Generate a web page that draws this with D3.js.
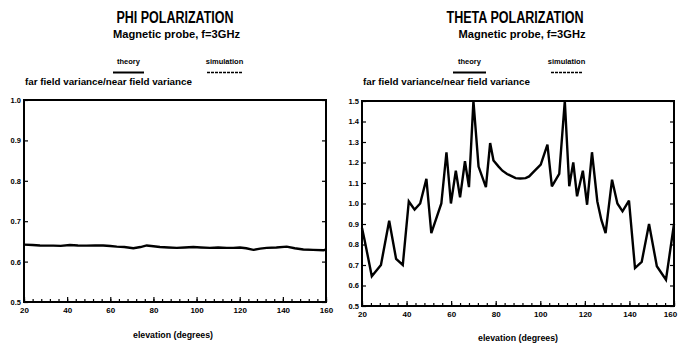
<!DOCTYPE html>
<html>
<head>
<meta charset="utf-8">
<script src="https://cdn.jsdelivr.net/npm/d3@7"></script>
<style>
  body { margin: 0; background: #fff; }
  svg { display: block; font-family: "Liberation Sans", Arial, sans-serif; }
</style>
</head>
<body>
<div id="chart"></div>
<script>
// elevation ticks shared by both panels
const elevationTicks = [20, 40, 60, 80, 100, 120, 140, 160];
const phiRatioTicks = [0.5, 0.6, 0.7, 0.8, 0.9, 1.0];
const thetaRatioTicks = [0.5, 0.6, 0.7, 0.8, 0.9, 1.0, 1.1, 1.2, 1.3, 1.4, 1.5];

// phi polarization: far/near variance ratio, nearly flat
const phiElevation = [20, 24, 27.4, 30.5, 33.6, 37, 41.3, 45, 49, 53, 56.7, 60, 63, 66.5, 70.7, 74, 76.9, 80, 83, 87, 90.8, 94.5, 98.5, 102, 106.2, 110, 114, 117, 120.1, 123, 126.3, 129.5, 132.5, 137, 141.8, 145.5, 149.5, 154, 158.8, 160];
const phiRatio = [0.642, 0.641, 0.640, 0.6395, 0.6395, 0.639, 0.641, 0.640, 0.6395, 0.640, 0.640, 0.6385, 0.637, 0.636, 0.633, 0.636, 0.640, 0.638, 0.636, 0.635, 0.634, 0.635, 0.636, 0.635, 0.634, 0.635, 0.634, 0.634, 0.635, 0.633, 0.629, 0.632, 0.634, 0.635, 0.637, 0.633, 0.630, 0.629, 0.628, 0.630];

// theta polarization: far/near variance ratio
const thetaElevation = [20, 21.2, 24.4, 28.5, 32.2, 35.3, 38.3, 41, 43.6, 46.1, 48.9, 51.1, 55.6, 57.9, 59.9, 62.1, 64, 66.2, 68, 70, 72.3, 75.6, 77.5, 79, 81.3, 83, 85.1, 88.9, 91, 93.4, 95, 97.2, 100.2, 103.2, 105.2, 108.5, 111, 113, 114.8, 116.5, 119.1, 121, 123.2, 125.6, 127.4, 129.3, 132.2, 134.6, 136.9, 139.8, 142.5, 145.5, 148.8, 152.3, 156.4, 160];
const thetaRatio = [0.88, 0.82, 0.645, 0.70, 0.916, 0.73, 0.70, 1.01, 0.97, 1.0, 1.12, 0.856, 1.0, 1.25, 1.0, 1.16, 1.03, 1.206, 1.08, 1.5, 1.18, 1.08, 1.295, 1.21, 1.18, 1.16, 1.144, 1.124, 1.122, 1.124, 1.132, 1.157, 1.19, 1.287, 1.084, 1.144, 1.5, 1.084, 1.2, 1.035, 1.16, 0.994, 1.25, 1.01, 0.92, 0.856, 1.116, 1.0, 0.962, 1.014, 0.685, 0.715, 0.90, 0.694, 0.628, 0.90];

const svg = d3.select("#chart").append("svg")
  .attr("width", 678)
  .attr("height", 350);

function drawPanel(p) {
  const g = svg.append("g");
  const x = d3.scaleLinear().domain([20, 160]).range([p.left, p.right]);
  const y = d3.scaleLinear().domain(p.yDomain).range([p.bottom, p.top]);

  // titles
  g.append("text").attr("x", p.cx).attr("y", 23)
    .attr("text-anchor", "middle").attr("font-size", 16).attr("font-weight", "bold")
    .attr("textLength", p.titleW).attr("lengthAdjust", "spacingAndGlyphs")
    .text(p.title);
  g.append("text").attr("x", p.cx + p.subDx).attr("y", 38)
    .attr("text-anchor", "middle").attr("font-size", 11.5).attr("font-weight", "bold")
    .attr("textLength", 127).attr("lengthAdjust", "spacingAndGlyphs")
    .text("Magnetic probe, f=3GHz");

  // legend
  const legend = [
    { label: "theory", x0: p.legTheory[0], x1: p.legTheory[1], dash: null, w: 2 },
    { label: "simulation", x0: p.legSim[0], x1: p.legSim[1], dash: "3,1", w: 1.4 }
  ];
  legend.forEach(l => {
    g.append("text").attr("x", (l.x0 + l.x1) / 2).attr("y", 64)
      .attr("text-anchor", "middle").attr("font-size", 7.5).attr("font-weight", "bold")
      .text(l.label);
    g.append("line").attr("x1", l.x0).attr("x2", l.x1).attr("y1", 72.5).attr("y2", 72.5)
      .attr("stroke", "#000").attr("stroke-width", l.w)
      .attr("stroke-dasharray", l.dash);
  });

  // y title
  g.append("text").attr("x", p.left + 1).attr("y", 85)
    .attr("font-size", 8.5).attr("font-weight", "bold")
    .attr("textLength", 167).attr("lengthAdjust", "spacingAndGlyphs")
    .text("far field variance/near field variance");

  // axes
  const bottomMinor = d3.axisBottom(x).tickValues(d3.range(20, 161, 4)).tickSize(-3).tickFormat("");
  g.append("g").attr("transform", `translate(0,${p.bottom})`).call(bottomMinor);
  const bottom = d3.axisBottom(x).tickValues(elevationTicks).tickSize(-5).tickPadding(8)
    .tickFormat(d3.format("d"));
  g.append("g").attr("transform", `translate(0,${p.bottom})`).call(bottom)
    .call(a => a.selectAll("text").attr("font-size", 8).attr("font-weight", "bold").attr("dy", p.xLabDy))
    .call(a => a.selectAll(".tick").filter(d => d === 160).select("text").attr("dx", p.lastDx));

  const left = d3.axisLeft(y).tickValues(p.yTicks).tickSize(-4).tickPadding(3)
    .tickFormat(d3.format(".1f"));
  g.append("g").attr("transform", `translate(${p.left},0)`).call(left)
    .call(a => a.selectAll("text").attr("font-size", 7.5).attr("font-weight", "bold"));
  const right = d3.axisRight(y).tickValues(p.yTicks).tickSize(-4).tickFormat("");
  g.append("g").attr("transform", `translate(${p.right},0)`).call(right);

  g.selectAll(".domain").attr("stroke", "none");
  g.selectAll(".tick line").attr("stroke", "#000").attr("stroke-width", 1.2);

  // frame
  g.append("rect").attr("x", p.left).attr("y", p.top)
    .attr("width", p.right - p.left).attr("height", p.bottom - p.top)
    .attr("fill", "none").attr("stroke", "#000").attr("stroke-width", 2);

  // x title
  g.append("text").attr("x", p.xTitleX).attr("y", p.xTitleY)
    .attr("text-anchor", "middle").attr("font-size", 9).attr("font-weight", "bold")
    .attr("textLength", 80).attr("lengthAdjust", "spacingAndGlyphs")
    .text("elevation (degrees)");

  // curve
  const line = d3.line().x((d, i) => x(p.elev[i])).y(d => y(d));
  g.append("path").datum(p.vals)
    .attr("d", line)
    .attr("fill", "none").attr("stroke", "#000")
    .attr("stroke-width", 2.4).attr("stroke-linejoin", "miter").attr("stroke-miterlimit", 3);
}

drawPanel({
  title: "PHI POLARIZATION", titleW: 117, cx: 175, subDx: 1.5,
  left: 24, right: 326, top: 100, bottom: 302,
  yDomain: [0.5, 1.0], yTicks: phiRatioTicks,
  legTheory: [113, 144], legSim: [207, 242],
  xTitleX: 173, xTitleY: 338, xLabDy: "0.4em", lastDx: 0,
  elev: phiElevation, vals: phiRatio
});

drawPanel({
  title: "THETA POLARIZATION", titleW: 137, cx: 515, subDx: 7,
  left: 362, right: 674, top: 101, bottom: 306,
  yDomain: [0.5, 1.5], yTicks: thetaRatioTicks,
  legTheory: [453, 486], legSim: [551, 582],
  xTitleX: 518, xTitleY: 341, xLabDy: "0.4em", lastDx: -4,
  elev: thetaElevation, vals: thetaRatio
});
</script>
</body>
</html>
